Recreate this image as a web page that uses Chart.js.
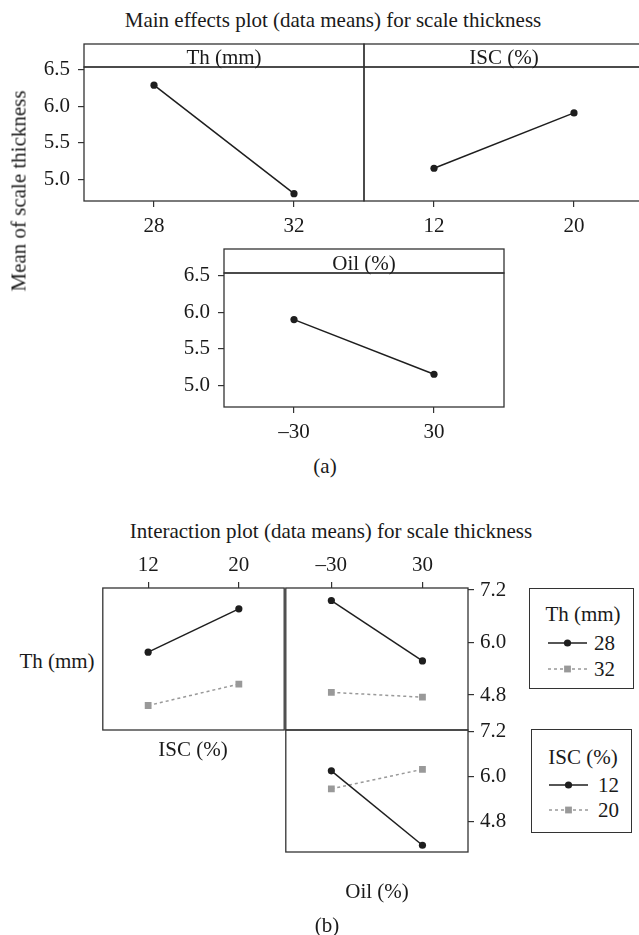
<!DOCTYPE html>
<html>
<head>
<meta charset="utf-8">
<title>Scale thickness: main effects and interaction plots</title>
<script src="https://cdn.jsdelivr.net/npm/chart.js@4.4.1/dist/chart.umd.min.js"></script>
<style>
  html, body { margin: 0; padding: 0; background: #fff; }
  #fig { position: relative; width: 639px; height: 935px; overflow: hidden;
         font-family: 'Liberation Serif', 'Times New Roman', serif; color: #1a1a1a; }
  #fig canvas { position: absolute; }
  .txt { position: absolute; font-size: 21px; line-height: 1; white-space: nowrap; }
  .legend { position: absolute; box-sizing: border-box; border: 1.3px solid #333; }
</style>
</head>
<body>
<div id="fig"></div>
<script>
(function () {
  'use strict';

  /* ---- factor levels ---- */
  var TH_LEVELS  = [28, 32];
  var ISC_LEVELS = [12, 20];
  var OIL_LEVELS = [-30, 30];

  /* ---- (a) main effects: mean scale thickness per level ---- */
  var TH_MEANS  = [6.29, 4.80];
  var ISC_MEANS = [5.15, 5.91];
  var OIL_MEANS = [5.90, 5.15];
  var MAIN_TICKS = [5.0, 5.5, 6.0, 6.5];

  /* ---- (b) interaction means ---- */
  var TH28_BY_ISC  = [5.78, 6.77];
  var TH32_BY_ISC  = [4.56, 5.05];
  var TH28_BY_OIL  = [6.96, 5.58];
  var TH32_BY_OIL  = [4.86, 4.75];
  var ISC12_BY_OIL = [6.16, 4.18];
  var ISC20_BY_OIL = [5.68, 6.20];
  var INTER_TICKS = [4.8, 6.0, 7.2];

  var FAMILY = "'Liberation Serif', 'Times New Roman', serif";
  var FONT = { family: FAMILY, size: 21 };
  var INK = '#1a1a1a';
  var FRAME = '#333';

  // series look: first level solid black dots, second level grey dashed squares
  var LOOKS = [
    { color: '#1e1e1e', dash: [], point: 'circle', r: 3.6 },
    { color: '#999999', dash: [3, 3], point: 'rect', r: 4.8 }
  ];

  var fig = document.getElementById('fig');

  Chart.defaults.font.family = FAMILY;
  Chart.defaults.font.size = 21;
  Chart.defaults.color = INK;

  function fmtTick(v) { return v < 0 ? '\u2013' + (-v) : String(v); }
  function fmtDec(v) { return v.toFixed(1); }

  function makeScale(side, min, max, ticks, fmt, size, pad) {
    return {
      type: 'linear',
      display: !!side,
      position: side || 'left',
      min: min,
      max: max,
      afterBuildTicks: function (s) {
        s.ticks = ticks.map(function (v) { return { value: v }; });
      },
      afterFit: function (s) {
        if (side === 'left' || side === 'right') s.width = size; else s.height = size;
      },
      grid: { drawOnChartArea: false, drawTicks: true, tickLength: 6, color: FRAME, lineWidth: 1.2 },
      border: { display: false },
      ticks: { color: INK, font: FONT, padding: pad, callback: fmt, maxRotation: 0, autoSkip: false }
    };
  }

  function makePanel(o) {
    var b = o.box, p = o.pad;
    var cv = document.createElement('canvas');
    cv.width = b.r - b.l + p.l + p.r;
    cv.height = b.b - b.t + p.t + p.b;
    cv.style.left = (b.l - p.l) + 'px';
    cv.style.top = (b.t - p.t) + 'px';
    fig.appendChild(cv);

    var xs = o.x.side, ys = o.y.side;
    var padding = {
      left: ys === 'left' ? 0 : p.l,
      right: ys === 'right' ? 0 : p.r,
      top: xs === 'top' ? 0 : p.t,
      bottom: xs === 'bottom' ? 0 : p.b
    };

    var frame = {
      id: 'frame',
      afterDraw: function (chart) {
        var a = chart.chartArea, ctx = chart.ctx;
        ctx.save();
        ctx.strokeStyle = FRAME;
        ctx.lineWidth = 1.3;
        ctx.strokeRect(a.left, a.top, a.right - a.left, a.bottom - a.top);
        if (o.strip) {
          ctx.strokeRect(a.left, a.top - o.strip.h, a.right - a.left, o.strip.h);
          ctx.fillStyle = INK;
          ctx.font = '21px ' + FAMILY;
          ctx.textAlign = 'center';
          ctx.textBaseline = 'alphabetic';
          ctx.fillText(o.strip.text, (a.left + a.right) / 2, a.top - 3);
        }
        ctx.restore();
      }
    };

    var datasets = o.series.map(function (vals, i) {
      var look = LOOKS[i];
      return {
        data: o.levels.map(function (lv, j) { return { x: lv, y: vals[j] }; }),
        borderColor: look.color,
        borderWidth: 1.5,
        borderDash: look.dash,
        pointStyle: look.point,
        pointRadius: look.r,
        pointBackgroundColor: look.color,
        pointBorderWidth: 0,
        tension: 0,
        fill: false
      };
    });

    return new Chart(cv, {
      type: 'line',
      data: { datasets: datasets },
      options: {
        responsive: false,
        animation: false,
        devicePixelRatio: 1,
        layout: { padding: padding },
        plugins: { legend: { display: false }, tooltip: { enabled: false } },
        scales: {
          x: makeScale(xs, o.x.min, o.x.max, o.levels, fmtTick,
                       xs === 'top' ? p.t : p.b, o.x.pad),
          y: makeScale(ys, o.y.min, o.y.max, o.y.ticks, fmtDec,
                       ys === 'right' ? p.r : p.l, o.y.pad)
        }
      },
      plugins: [frame]
    });
  }

  function addText(str, x, y, opts) {
    opts = opts || {};
    var d = document.createElement('div');
    d.className = 'txt';
    d.textContent = str;
    d.style.left = x + 'px';
    d.style.top = y + 'px';
    var tf = opts.left ? 'translate(0,-50%)' : 'translate(-50%,-50%)';
    if (opts.rotate) tf += ' rotate(-90deg)';
    d.style.transform = tf;
    (opts.parent || fig).appendChild(d);
    return d;
  }

  function addLegend(title, labels, box, cx, titleY, rowsY, lineX, textX) {
    var lg = document.createElement('div');
    lg.className = 'legend';
    lg.style.left = box.l + 'px';
    lg.style.top = box.t + 'px';
    lg.style.width = box.w + 'px';
    lg.style.height = box.h + 'px';
    fig.appendChild(lg);
    addText(title, cx, titleY, { parent: lg });
    labels.forEach(function (lab, i) {
      var look = LOOKS[i];
      var ns = 'http://www.w3.org/2000/svg';
      var svg = document.createElementNS(ns, 'svg');
      var w = lineX[1] - lineX[0];
      svg.setAttribute('width', w);
      svg.setAttribute('height', 12);
      svg.style.position = 'absolute';
      svg.style.left = lineX[0] + 'px';
      svg.style.top = (rowsY[i] - 6) + 'px';
      var ln = document.createElementNS(ns, 'line');
      ln.setAttribute('x1', 0); ln.setAttribute('x2', w);
      ln.setAttribute('y1', 6); ln.setAttribute('y2', 6);
      ln.setAttribute('stroke', look.color);
      ln.setAttribute('stroke-width', 1.5);
      if (look.dash.length) ln.setAttribute('stroke-dasharray', look.dash.join(','));
      svg.appendChild(ln);
      var mk;
      if (look.point === 'circle') {
        mk = document.createElementNS(ns, 'circle');
        mk.setAttribute('cx', w / 2); mk.setAttribute('cy', 6); mk.setAttribute('r', look.r);
      } else {
        var s = look.r * Math.SQRT2;
        mk = document.createElementNS(ns, 'rect');
        mk.setAttribute('x', w / 2 - s / 2); mk.setAttribute('y', 6 - s / 2);
        mk.setAttribute('width', s); mk.setAttribute('height', s);
      }
      mk.setAttribute('fill', look.color);
      svg.appendChild(mk);
      lg.appendChild(svg);
      addText(String(lab), textX, rowsY[i], { parent: lg, left: true });
    });
  }

  /* ================= (a) main effects ================= */
  var MAIN_Y = { min: 4.70, max: 6.54, ticks: MAIN_TICKS, pad: 8 };

  makePanel({
    box: { l: 84, t: 67, r: 364, b: 201 }, pad: { l: 84, t: 30, r: 4, b: 40 },
    strip: { h: 23, text: 'Th (mm)' },
    levels: TH_LEVELS, series: [TH_MEANS],
    x: { side: 'bottom', min: 26, max: 34, pad: 7 },
    y: { side: 'left', min: MAIN_Y.min, max: MAIN_Y.max, ticks: MAIN_Y.ticks, pad: MAIN_Y.pad }
  });

  makePanel({
    box: { l: 364, t: 67, r: 644, b: 201 }, pad: { l: 4, t: 30, r: 4, b: 40 },
    strip: { h: 23, text: 'ISC (%)' },
    levels: ISC_LEVELS, series: [ISC_MEANS],
    x: { side: 'bottom', min: 8, max: 24, pad: 7 },
    y: { side: null, min: MAIN_Y.min, max: MAIN_Y.max, ticks: MAIN_Y.ticks, pad: MAIN_Y.pad }
  });

  makePanel({
    box: { l: 224, t: 273, r: 504, b: 407 }, pad: { l: 84, t: 30, r: 4, b: 40 },
    strip: { h: 24, text: 'Oil (%)' },
    levels: OIL_LEVELS, series: [OIL_MEANS],
    x: { side: 'bottom', min: -60, max: 60, pad: 7 },
    y: { side: 'left', min: MAIN_Y.min, max: MAIN_Y.max, ticks: MAIN_Y.ticks, pad: MAIN_Y.pad }
  });

  addText('Main effects plot (data means) for scale thickness', 333, 19.5);
  addText('Mean of scale thickness', 19, 191, { rotate: true });
  addText('(a)', 325, 466);

  /* ================= (b) interaction ================= */
  var INT_Y = { min: 4.0, max: 7.246 };

  makePanel({
    box: { l: 102, t: 588, r: 285, b: 730 }, pad: { l: 4, t: 45, r: 4, b: 20 },
    levels: ISC_LEVELS, series: [TH28_BY_ISC, TH32_BY_ISC],
    x: { side: 'top', min: 8, max: 24, pad: 4 },
    y: { side: null, min: INT_Y.min, max: INT_Y.max, ticks: INTER_TICKS, pad: 6 }
  });

  makePanel({
    box: { l: 285, t: 588, r: 468, b: 730 }, pad: { l: 4, t: 45, r: 50, b: 20 },
    levels: OIL_LEVELS, series: [TH28_BY_OIL, TH32_BY_OIL],
    x: { side: 'top', min: -60, max: 60, pad: 4 },
    y: { side: 'right', min: INT_Y.min, max: INT_Y.max, ticks: INTER_TICKS, pad: 6 }
  });

  makePanel({
    box: { l: 285, t: 730, r: 468, b: 872 }, pad: { l: 4, t: 20, r: 50, b: 20 },
    levels: OIL_LEVELS, series: [ISC12_BY_OIL, ISC20_BY_OIL],
    x: { side: null, min: -60, max: 60, pad: 4 },
    y: { side: 'right', min: INT_Y.min, max: INT_Y.max, ticks: INTER_TICKS, pad: 6 }
  });

  addText('Interaction plot (data means) for scale thickness', 331, 531);
  addText('Th (mm)', 57, 661);
  addText('ISC (%)', 193, 749);
  addText('Oil (%)', 377, 891);
  addText('(b)', 327, 925);

  addLegend('Th (mm)', TH_LEVELS, { l: 529, t: 588, w: 105, h: 101 },
            53, 25, [54, 80], [18, 57], 64);
  addLegend('ISC (%)', ISC_LEVELS, { l: 531, t: 729, w: 101, h: 104 },
            51, 27, [55, 80], [17, 56], 66);

}());
</script>
</body>
</html>
